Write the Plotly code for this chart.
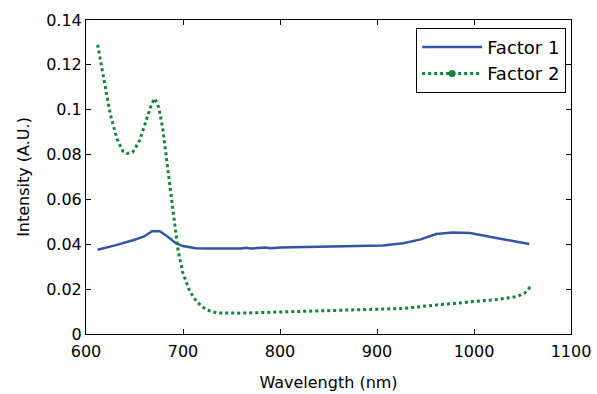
import plotly.graph_objects as go

# Factor 1 (solid blue)
wl1 = [612, 630, 650, 660, 668, 676, 684, 693, 700, 707, 713, 730, 760, 765, 770, 785, 790, 800, 850, 872, 906, 927, 945, 961, 978, 996, 1010, 1023, 1040, 1057]
f1 = [0.0376, 0.0395, 0.0420, 0.0435, 0.0458, 0.0458, 0.0435, 0.0404, 0.0392, 0.0385, 0.0382, 0.0381, 0.0381, 0.0385, 0.0381, 0.0386, 0.0382, 0.0386, 0.0390, 0.0394, 0.0395, 0.0405, 0.0422, 0.0446, 0.0453, 0.0450, 0.0440, 0.0428, 0.0415, 0.0401]

# Factor 2 (dotted green)
wl2 = [612, 618, 625, 632, 638, 642, 648, 655, 662, 668, 671, 675, 679, 684, 688, 692, 695, 700, 707, 714, 721, 728, 735, 760, 800, 840, 872, 906, 927, 958, 992, 1026, 1044, 1052, 1058]
f2 = [0.129, 0.114, 0.098, 0.087, 0.0815, 0.0805, 0.081, 0.086, 0.095, 0.103, 0.105, 0.101, 0.092, 0.075, 0.0595, 0.046, 0.037, 0.027, 0.019, 0.0145, 0.0118, 0.0102, 0.0094, 0.0093, 0.0098, 0.0103, 0.0106, 0.0112, 0.0114, 0.0128, 0.0140, 0.0155, 0.0167, 0.0182, 0.0210]

blue = "#3553a8"
green = "#12843a"
font = "DejaVu Sans"

fig = go.Figure()
fig.add_trace(go.Scatter(x=wl1, y=f1, mode="lines", name="Factor 1",
                         line=dict(color=blue, width=2.5), showlegend=True))
fig.add_trace(go.Scatter(x=wl2, y=f2, mode="lines", name="Factor 2",
                         line=dict(color=green, width=3, dash="dot"), showlegend=False))
fig.add_trace(go.Scatter(x=[None], y=[None], mode="lines+markers", name="Factor 2",
                         line=dict(color=green, width=3, dash="dot"),
                         marker=dict(color=green, size=7)))

axis_common = dict(showline=True, linecolor="black", linewidth=1, mirror="allticks",
                   ticks="inside", ticklen=5, tickcolor="black", showgrid=False,
                   zeroline=False, automargin=False,
                   tickfont=dict(family=font, size=16, color="black"))

fig.update_layout(
    width=597, height=394,
    margin=dict(l=86, r=26, t=20, b=60),
    plot_bgcolor="white", paper_bgcolor="white",
    font=dict(family=font, size=16, color="black"),
    xaxis=dict(range=[600, 1100], tickvals=[600, 700, 800, 900, 1000, 1100],
               ticklabelstandoff=3,
               title=dict(text="Wavelength (nm)", font=dict(family=font, size=16), standoff=16),
               **axis_common),
    yaxis=dict(range=[0, 0.14], tickvals=[0, 0.02, 0.04, 0.06, 0.08, 0.1, 0.12, 0.14],
               ticktext=["0", "0.02", "0.04", "0.06", "0.08", "0.1", "0.12", "0.14"],
               title=dict(text="Intensity (A.U.)", font=dict(family=font, size=16), standoff=12),
               **axis_common),
    legend=dict(x=0.99, y=0.975, xanchor="right", yanchor="top",
                bordercolor="black", borderwidth=1, bgcolor="white",
                font=dict(family=font, size=18), tracegroupgap=0, itemwidth=60),
)

fig.write_html("out.html")
